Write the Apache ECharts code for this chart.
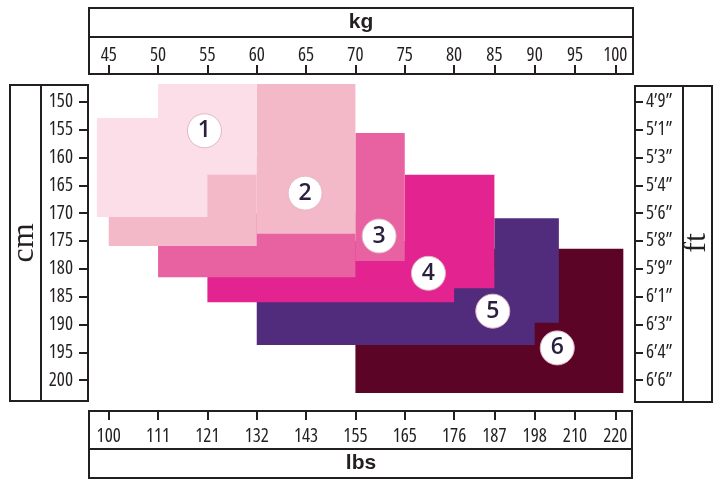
<!DOCTYPE html>
<html>
<head>
<meta charset="utf-8">
<script src="https://cdn.jsdelivr.net/npm/echarts@6/dist/echarts.min.js"></script>
<style>html,body{margin:0;padding:0;background:#fff}#c{width:724px;height:487px}</style>
</head>
<body>
<div id="c"></div>
<script>
// ---- data ----
const kgTicks = [45, 50, 55, 60, 65, 70, 75, 80, 85, 90, 95, 100];
const lbsTicks = [100, 111, 121, 132, 143, 155, 165, 176, 187, 198, 210, 220];
const cmTicks = [150, 155, 160, 165, 170, 175, 180, 185, 190, 195, 200];
const ftTicks = ['4’9”', '5’1”', '5’3”', '5’4”', '5’6”', '5’8”', '5’9”', '6’1”', '6’3”', '6’4”', '6’6”'];

const sizeNames = ['1', '2', '3', '4', '5', '6'];
// each block: [kgFrom, kgTo, cmFrom, cmTo]
const size1 = [[50, 60, 146.8, 163.1], [43.8, 55, 152.9, 170.7]];
const size2 = [[60, 70, 146.8, 173.7], [45, 60, 160, 175.9]];
const size3 = [[70, 75, 155.6, 178.6], [50, 70, 170, 181.5]];
const size4 = [[75, 85, 163.1, 183.5], [55, 80, 175, 186.0]];
const size5 = [[85, 93, 170.9, 189.7], [60, 90, 180, 193.7]];
const size6 = [[70, 101, 176.4, 202.3]];
const badgeKg = [54.7, 64.9, 72.4, 77.4, 84.8, 92.8];
const badgeCm = [155.2, 166.4, 174.1, 180.8, 187.6, 194.2];

// ---- styles / layout ----
const palette = ['#fbdee7', '#f4b9c9', '#e862a1', '#e3238f', '#512c7c', '#5b0426'];
const ink = '#231f20';
const tickSize = 19;

// choose the narrowest installed sans face for the tick labels
function pickNarrow(size) {
  const ctx = document.createElement('canvas').getContext('2d');
  const cands = [
    { st: '', fam: "'Liberation Sans Narrow'" },
    { st: '', fam: "'Arial Narrow'" },
    { st: '', fam: "'Roboto Condensed'" },
    { st: '', fam: "'DejaVu Sans Condensed'" },
    { st: 'condensed', fam: "'Open Sans'" },
    { st: 'condensed', fam: "'Noto Sans'" },
    { st: 'condensed', fam: "Roboto" },
    { st: 'condensed', fam: "'DejaVu Sans'" },
    { st: '', fam: "'Liberation Sans'" }
  ];
  let best = cands[cands.length - 1], bw = Infinity;
  cands.forEach(f => {
    ctx.font = (f.st ? f.st + ' ' : '') + size + 'px ' + f.fam + ', monospace';
    const w = ctx.measureText('0123456789').width;
    if (w < bw - 0.01) { bw = w; best = f; }
  });
  return best;
}
const narrow = pickNarrow(tickSize);
const tickLabelStyle = {
  fontStyle: narrow.st || 'normal',
  fontFamily: narrow.fam.replace(/'/g, '') + ', Liberation Sans, sans-serif',
  fontSize: tickSize,
  color: ink
};

// the weight scale is compressed above 80 kg
function warp(kg) { return kg <= 80 ? kg : 80 + (kg - 80) * 0.8167; }
const xMin = warp(43), xMax = warp(102.2);

const sizes = [size1, size2, size3, size4, size5, size6];

function idxOf(arr, v) {
  for (let i = 0; i < arr.length; i++) if (Math.abs(arr[i] - v) < 1e-6) return i;
  return -1;
}
const kgPos = kgTicks.map(warp);

const series = [];
sizes.forEach((blocks, si) => {
  series.push({
    type: 'custom',
    name: 'Size ' + sizeNames[si],
    xAxisIndex: 0, yAxisIndex: 0,
    z: 10 - si,
    data: blocks.map(b => [warp(b[0]), warp(b[1]), b[2], b[3]]),
    renderItem: function (params, api) {
      const p1 = api.coord([api.value(0), api.value(2)]);
      const p2 = api.coord([api.value(1), api.value(3)]);
      return {
        type: 'rect',
        shape: { x: p1[0], y: p1[1], width: p2[0] - p1[0], height: p2[1] - p1[1] },
        style: { fill: palette[si], stroke: null }
      };
    },
    silent: true
  });
});
series.push({
  type: 'scatter',
  xAxisIndex: 0, yAxisIndex: 0,
  z: 20,
  symbol: 'circle',
  symbolSize: 34,
  itemStyle: { color: '#ffffff', borderColor: '#e2b6c6', borderWidth: 1, opacity: 1 },
  label: {
    show: true, position: 'inside',
    formatter: p => sizeNames[p.dataIndex],
    fontFamily: 'Open Sans, Lato, sans-serif', fontWeight: 600, fontSize: 23, color: '#2a1f3d'
  },
  data: badgeKg.map((k, i) => [warp(k), badgeCm[i]]),
  silent: true
});

const chart = echarts.init(document.getElementById('c'), null, { renderer: 'canvas' });
const lineStyle = { color: ink, width: 2 };
chart.setOption({
  animation: false,
  backgroundColor: '#ffffff',
  grid: { left: 89, right: 91, top: 84, bottom: 94 },
  xAxis: [
    {
      type: 'value', position: 'top', offset: 10, min: xMin, max: xMax,
      axisLine: { show: false }, splitLine: { show: false },
      axisTick: { show: true, length: 9, lineStyle: lineStyle, customValues: kgPos },
      axisLabel: Object.assign({
        customValues: kgPos, margin: 9,
        formatter: v => { const i = idxOf(kgPos, v); return i >= 0 ? String(kgTicks[i]) : ''; }
      }, tickLabelStyle)
    },
    {
      type: 'value', position: 'bottom', offset: 18, min: xMin, max: xMax,
      axisLine: { show: false }, splitLine: { show: false },
      axisTick: { show: true, length: 9, lineStyle: lineStyle, customValues: kgPos },
      axisLabel: Object.assign({
        customValues: kgPos, margin: 16,
        formatter: v => { const i = idxOf(kgPos, v); return i >= 0 ? String(lbsTicks[i]) : ''; }
      }, tickLabelStyle)
    }
  ],
  yAxis: [
    {
      type: 'value', position: 'left', offset: 1, inverse: true, min: 146.8, max: 202.3,
      axisLine: { show: false }, splitLine: { show: false },
      axisTick: { show: true, length: 9, lineStyle: lineStyle, customValues: cmTicks },
      axisLabel: Object.assign({
        customValues: cmTicks, margin: 15,
        formatter: v => String(Math.round(v))
      }, tickLabelStyle)
    },
    {
      type: 'value', position: 'right', offset: 2, inverse: true, min: 146.8, max: 202.3,
      axisLine: { show: false }, splitLine: { show: false },
      axisTick: { show: true, length: 8, lineStyle: lineStyle, customValues: cmTicks },
      axisLabel: Object.assign({
        customValues: cmTicks, margin: 11,
        formatter: v => { const i = idxOf(cmTicks, v); return i >= 0 ? ftTicks[i] : ''; }
      }, tickLabelStyle)
    }
  ],
  graphic: [
    { type: 'rect', shape: { x: 89, y: 8, width: 544, height: 66 }, style: { fill: 'none', stroke: ink, lineWidth: 2 } },
    { type: 'line', shape: { x1: 89, y1: 37, x2: 633, y2: 37 }, style: { stroke: ink, lineWidth: 2 } },
    { type: 'text', x: 361, y: 22, style: { text: 'kg', fontFamily: 'Liberation Sans, Arial, sans-serif', fontWeight: 'bold', fontSize: 21, fill: ink, align: 'center', verticalAlign: 'middle' } },
    { type: 'rect', shape: { x: 89, y: 411, width: 543, height: 67 }, style: { fill: 'none', stroke: ink, lineWidth: 2 } },
    { type: 'line', shape: { x1: 89, y1: 449, x2: 632, y2: 449 }, style: { stroke: ink, lineWidth: 2 } },
    { type: 'text', x: 361, y: 463, style: { text: 'lbs', fontFamily: 'Liberation Sans, Arial, sans-serif', fontWeight: 'bold', fontSize: 21, fill: ink, align: 'center', verticalAlign: 'middle' } },
    { type: 'rect', shape: { x: 10, y: 85, width: 78, height: 316 }, style: { fill: 'none', stroke: ink, lineWidth: 2 } },
    { type: 'line', shape: { x1: 41, y1: 85, x2: 41, y2: 401 }, style: { stroke: ink, lineWidth: 2 } },
    { type: 'text', x: 25, y: 243, rotation: Math.PI / 2, style: { text: 'cm', fontFamily: 'Liberation Serif, Times New Roman, serif', fontSize: 32, fill: ink, align: 'center', verticalAlign: 'middle' } },
    { type: 'rect', shape: { x: 635, y: 86, width: 77, height: 316 }, style: { fill: 'none', stroke: ink, lineWidth: 2 } },
    { type: 'line', shape: { x1: 683, y1: 86, x2: 683, y2: 402 }, style: { stroke: ink, lineWidth: 2 } },
    { type: 'text', x: 697, y: 243, rotation: Math.PI / 2, style: { text: 'ft', fontFamily: 'Liberation Serif, Times New Roman, serif', fontSize: 32, fill: ink, align: 'center', verticalAlign: 'middle' } }
  ],
  series: series
});
</script>
</body>
</html>
